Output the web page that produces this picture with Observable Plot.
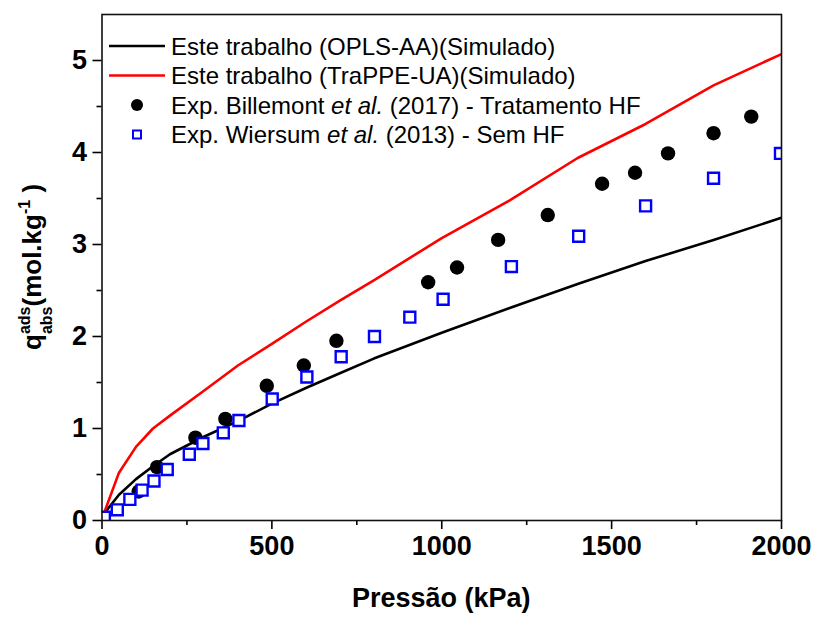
<!DOCTYPE html>
<html><head><meta charset="utf-8">
<script src="https://cdn.jsdelivr.net/npm/d3@7"></script>
<script src="https://cdn.jsdelivr.net/npm/@observablehq/plot@0.6"></script>
<style>
body{margin:0;background:#fff}
svg{font-family:"Liberation Sans",Arial,sans-serif}
</style>
</head><body><div id="chart"></div>
<script>
// Simulated isotherms (pressure kPa, loading mol/kg)
const simP    = [5, 50, 100, 150, 200, 300, 400, 500, 600, 700, 800, 1000, 1200, 1400, 1600, 1800, 2000];
const oplsQ   = [0.07, 0.28, 0.45, 0.59, 0.72, 0.91, 1.08, 1.27, 1.44, 1.60, 1.76, 2.04, 2.31, 2.57, 2.82, 3.05, 3.29];
const trappeQ = [0.07, 0.52, 0.80, 1.00, 1.14, 1.41, 1.685, 1.92, 2.16, 2.39, 2.61, 3.07, 3.48, 3.94, 4.31, 4.73, 5.07];
// Experimental
const billP = [108, 162, 275, 363, 485, 594, 690, 960, 1045, 1166, 1312, 1472, 1569, 1666, 1800, 1911];
const billQ = [0.315, 0.58, 0.90, 1.105, 1.464, 1.685, 1.953, 2.59, 2.75, 3.05, 3.32, 3.66, 3.78, 3.99, 4.21, 4.39];
const wierP = [7, 45, 82, 118, 153, 192, 257, 297, 357, 403, 501, 603, 704, 802, 906, 1004, 1205, 1403, 1600, 1800, 1997];
const wierQ = [0.036, 0.116, 0.23, 0.33, 0.43, 0.554, 0.72, 0.837, 0.953, 1.087, 1.32, 1.56, 1.78, 2.0, 2.21, 2.405, 2.76, 3.09, 3.42, 3.72, 3.99];
// Ticks
const xMajor = [0, 500, 1000, 1500, 2000];
const xMinor = [250, 750, 1250, 1750];
const yMajor = [0, 1, 2, 3, 4, 5];
const yMinor = [0.5, 1.5, 2.5, 3.5, 4.5];
// Text
const xTitle = "Pressão (kPa)";
const legendItems = [
  {kind: "line", color: "#000000", parts: [["Este trabalho (OPLS-AA)(Simulado)", false]]},
  {kind: "line", color: "#ff0000", parts: [["Este trabalho (TraPPE-UA)(Simulado)", false]]},
  {kind: "dot", color: "#000000", parts: [["Exp. Billemont ", false], ["et al.", true], [" (2017) - Tratamento HF", false]]},
  {kind: "square", color: "#0000ff", parts: [["Exp. Wiersum ", false], ["et al.", true], [" (2013) - Sem HF", false]]}
];

const sim = simP.map((p, i) => ({p, opls: oplsQ[i], trappe: trappeQ[i]}));
const bill = billP.map((p, i) => ({p, q: billQ[i]}));
const wier = wierP.map((p, i) => ({p, q: wierQ[i]}));

const ML = 101.5, MR = 35, MT = 14, MB = 97, W = 816, H = 617;

const chart = Plot.plot({
  width: W, height: H,
  marginLeft: ML, marginRight: MR, marginTop: MT, marginBottom: MB,
  x: {domain: [0, 2000]},
  y: {domain: [0, 5.5]},
  marks: [
    Plot.line(sim, {x: "p", y: "opls", stroke: "#000", strokeWidth: 2.6, clip: true}),
    Plot.line(sim, {x: "p", y: "trappe", stroke: "#ff0000", strokeWidth: 2.6, clip: true}),
    Plot.dot(bill, {x: "p", y: "q", r: 7.2, fill: "#000", stroke: "none", clip: true}),
    Plot.dot(wier, {x: "p", y: "q", symbol: "square", r: 6.2, fill: "#fff", stroke: "#0000ff", strokeWidth: 2.4, clip: true}),
    Plot.axisX({ticks: xMajor, tickFormat: d => String(d), tickSize: 9, tickPadding: 6, fontSize: 27, fontWeight: "bold", label: null, strokeWidth: 1.6, color: "#000"}),
    Plot.axisX({ticks: xMinor, tickSize: 5, text: null, label: null, strokeWidth: 1.6}),
    Plot.axisY({ticks: yMajor, tickFormat: d => String(d), tickSize: 9, tickPadding: 6, fontSize: 27, fontWeight: "bold", label: null, strokeWidth: 1.6, color: "#000"}),
    Plot.axisY({ticks: yMinor, tickSize: 5, text: null, label: null, strokeWidth: 1.6}),
    Plot.frame({stroke: "#111", strokeWidth: 1.6})
  ]
});
document.getElementById("chart").appendChild(chart);

const svg = d3.select(chart);
svg.style("font-family", "'Liberation Sans', Arial, sans-serif").style("background", "#fff");

// X title
svg.append("text")
  .attr("x", (ML + W - MR) / 2).attr("y", 607)
  .attr("text-anchor", "middle")
  .attr("font-size", 27).attr("font-weight", "bold").attr("fill", "#000")
  .text(xTitle);

// Y title with super/subscripts
const yt = svg.append("text")
  .attr("transform", "translate(41,350) rotate(-90)")
  .attr("text-anchor", "start")
  .attr("font-size", 26).attr("font-weight", "bold").attr("fill", "#000");
yt.append("tspan").text("q");
const sup = yt.append("tspan").attr("font-size", 16).attr("dy", -11).text("ads");
const sub = yt.append("tspan").attr("font-size", 16).attr("dy", 22).text("abs");
const supW = sup.node().getComputedTextLength();
sub.attr("dx", -supW);
yt.append("tspan").attr("dy", -11).text("(mol.kg");
yt.append("tspan").attr("font-size", 16).attr("dy", -11).text("-1");
yt.append("tspan").attr("dy", 11).text(" )");

// Legend
const lg = svg.append("g").attr("text-anchor", "start");
legendItems.forEach((it, i) => {
  const cy = 46 + i * 29.5;
  if (it.kind === "line") {
    lg.append("line").attr("x1", 109).attr("x2", 165).attr("y1", cy).attr("y2", cy)
      .attr("stroke", it.color).attr("stroke-width", 2.6);
  } else if (it.kind === "dot") {
    lg.append("circle").attr("cx", 137).attr("cy", cy).attr("r", 6).attr("fill", it.color);
  } else {
    lg.append("rect").attr("x", 133).attr("y", cy - 4).attr("width", 8).attr("height", 8)
      .attr("fill", "#fff").attr("stroke", it.color).attr("stroke-width", 2);
  }
  const t = lg.append("text").attr("x", 171).attr("y", cy + 8.5)
    .attr("text-anchor", "start")
    .attr("font-size", 24).attr("fill", "#000");
  it.parts.forEach(([s, ital]) => {
    const ts = t.append("tspan").text(s);
    if (ital) ts.attr("font-style", "italic");
  });
});
</script>
</body></html>
